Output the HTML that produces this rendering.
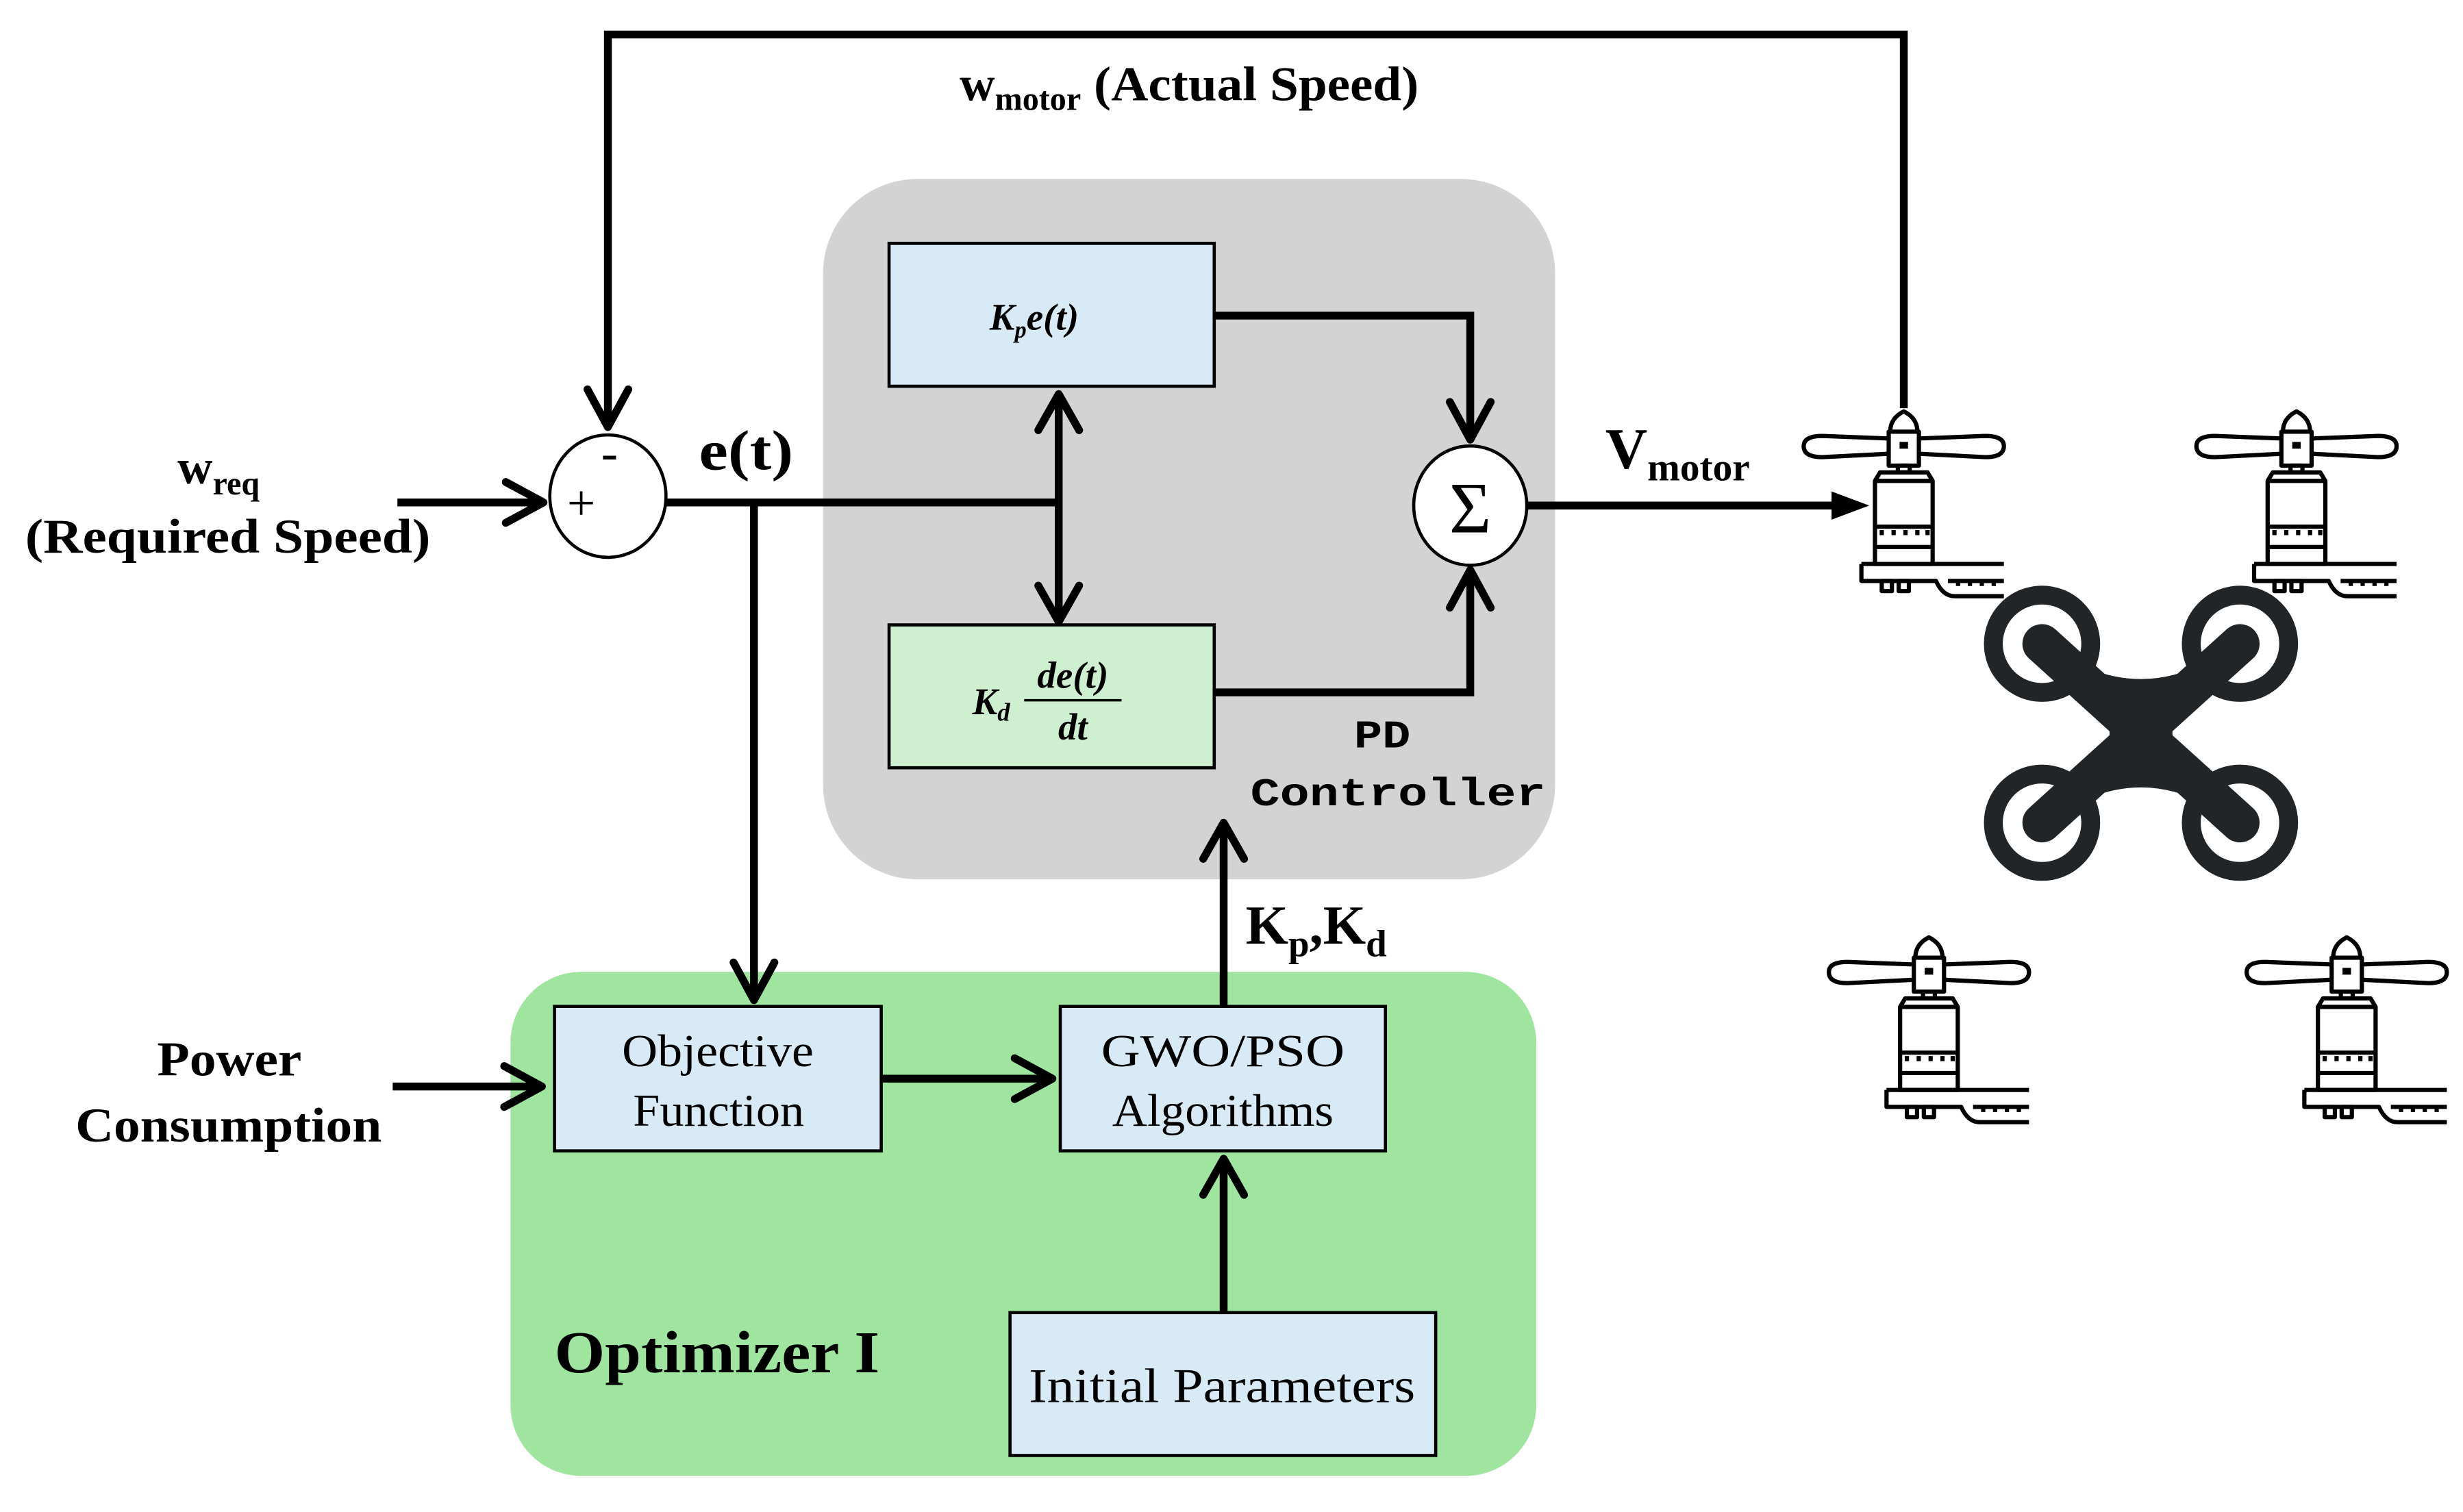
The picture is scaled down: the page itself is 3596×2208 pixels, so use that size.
<!DOCTYPE html>
<html><head><meta charset="utf-8"><style>
html,body{margin:0;padding:0;background:#fff;}
svg{display:block;}
.b{font-family:"Liberation Serif",serif;font-weight:bold;fill:#000;}
.s{font-family:"Liberation Serif",serif;fill:#000;}
.m{font-family:"Liberation Mono",monospace;font-weight:bold;fill:#000;}
</style></head><body>
<svg width="3596" height="2208" viewBox="0 0 1568 963" preserveAspectRatio="none" xmlns="http://www.w3.org/2000/svg">
<defs>
<g id="motor" fill="none" stroke="#000" stroke-width="2.5" stroke-linejoin="round" transform="scale(1.08)">
  <path d="M-8,12 Q-8,4 0,0 Q8,4 8,12 Z" fill="#fff"/>
  <rect x="-8.9" y="12" width="17.8" height="20" fill="#fff"/>
  <path d="M-8.9,16 L-48,14.5 Q-59,14.5 -59,20.5 Q-59,27 -48,27 L-8.9,25"/>
  <path d="M8.9,16 L48,14.5 Q59,14.5 59,20.5 Q59,27 48,27 L8.9,25"/>
  <rect x="-2.5" y="18" width="5" height="4" fill="#000" stroke="none"/>
  <rect x="-3.5" y="32" width="7" height="4"/>
  <path d="M-14,36 L14,36 L17,41 L17,90 L-17,90 L-17,41 Z" fill="#fff"/>
  <line x1="-17" y1="41" x2="17" y2="41"/>
  <line x1="-17" y1="68" x2="17" y2="68"/>
  <line x1="-17" y1="80" x2="17" y2="80"/>
  <path d="M-13,73 v-3 M-6,73 v-3 M1,73 v-3 M8,73 v-3 M14,73 v-3"/>
  <path d="M-25,90 L59,90 M-25,90 L-25,100 L19,100 Q23,109 30,109 L59,109"/>
  <path d="M26,100 L59,100 M32,100 v3 M39,100 v3 M46,100 v3 M53,100 v3"/>
  <rect x="-13" y="100" width="6" height="6"/>
  <rect x="-3" y="100" width="6" height="6"/>
</g>
</defs>

<rect x="524" y="114" width="466" height="446" rx="60" fill="#d3d3d3"/>
<rect x="325" y="619" width="653" height="321" rx="45" fill="#9fe5a0"/>

<g stroke="#000" stroke-width="5" fill="none" stroke-linecap="butt">
  <polyline points="1212,260 1212,22 387,22 387,272"/>
  <polyline points="374,248 387,272 400,248" stroke-linecap="round" stroke-linejoin="round"/>
  <line x1="253" y1="320" x2="346" y2="320"/>
  <polyline points="322,307 346,320 322,333" stroke-linejoin="round" stroke-linecap="round"/>
  <line x1="424" y1="320" x2="674" y2="320"/>
  <line x1="480" y1="320" x2="480" y2="637"/>
  <polyline points="467,613 480,637 493,613" stroke-linejoin="round" stroke-linecap="round"/>
  <line x1="674" y1="251" x2="674" y2="396"/>
  <polyline points="661,274 674,251 687,274" stroke-linejoin="round" stroke-linecap="round"/>
  <polyline points="661,373 674,396 687,373" stroke-linejoin="round" stroke-linecap="round"/>
  <polyline points="773,201 936,201 936,280"/>
  <polyline points="923,256 936,280 949,256" stroke-linejoin="round" stroke-linecap="round"/>
  <polyline points="773,441 936,441 936,363"/>
  <polyline points="923,387 936,363 949,387" stroke-linejoin="round" stroke-linecap="round"/>
  <line x1="972" y1="322" x2="1172" y2="322"/>
  <line x1="250" y1="692" x2="345" y2="692"/>
  <polyline points="321,679 345,692 321,705" stroke-linejoin="round" stroke-linecap="round"/>
  <line x1="561" y1="687" x2="670" y2="687"/>
  <polyline points="646,674 670,687 646,700" stroke-linejoin="round" stroke-linecap="round"/>
  <line x1="779" y1="641" x2="779" y2="524"/>
  <polyline points="766,547 779,524 792,547" stroke-linejoin="round" stroke-linecap="round"/>
  <line x1="779" y1="836" x2="779" y2="738"/>
  <polyline points="766,761 779,738 792,761" stroke-linejoin="round" stroke-linecap="round"/>
</g>
<polygon points="1166,313 1190,322 1166,331" fill="#000"/>

<ellipse cx="387" cy="316" rx="37" ry="39" fill="#fff" stroke="#000" stroke-width="2"/>
<text x="388" y="299" class="s" font-size="32" text-anchor="middle">-</text>
<text x="370" y="331" class="s" font-size="32" text-anchor="middle">+</text>
<ellipse cx="936" cy="322" rx="36" ry="38" fill="#fff" stroke="#000" stroke-width="2"/>
<text x="936" y="339" class="s" font-size="46" text-anchor="middle">Σ</text>

<rect x="566" y="155" width="207" height="91" fill="#d9eaf7" stroke="#000" stroke-width="2"/>
<text x="630" y="210" class="b" font-size="24" font-style="italic">K<tspan font-size="15" dy="5">p</tspan><tspan dy="-5">e(t)</tspan></text>
<rect x="566" y="398" width="207" height="91" fill="#cff0d0" stroke="#000" stroke-width="2"/>
<text x="619" y="455" class="b" font-size="24" font-style="italic">K<tspan font-size="16" dy="4">d</tspan></text>
<text x="683" y="438" class="b" font-size="24" font-style="italic" text-anchor="middle">de(t)</text>
<line x1="652" y1="446" x2="714" y2="446" stroke="#000" stroke-width="1.5"/>
<text x="683" y="471" class="b" font-size="24" font-style="italic" text-anchor="middle">dt</text>

<rect x="353" y="641" width="208" height="92" fill="#d9eaf7" stroke="#000" stroke-width="2"/>
<text x="396" y="679" class="s" font-size="29" textLength="122" lengthAdjust="spacingAndGlyphs">Objective</text>
<text x="403" y="717" class="s" font-size="29" textLength="109" lengthAdjust="spacingAndGlyphs">Function</text>
<rect x="675" y="641" width="207" height="92" fill="#d9eaf7" stroke="#000" stroke-width="2"/>
<text x="701" y="679" class="s" font-size="29" textLength="155" lengthAdjust="spacingAndGlyphs">GWO/PSO</text>
<text x="708" y="717" class="s" font-size="29" textLength="141" lengthAdjust="spacingAndGlyphs">Algorithms</text>
<rect x="643" y="836" width="271" height="91" fill="#d9eaf7" stroke="#000" stroke-width="2"/>
<text x="655" y="893" class="s" font-size="31" textLength="246" lengthAdjust="spacingAndGlyphs">Initial Parameters</text>

<text x="611" y="64" class="b" font-size="31">w<tspan font-size="21" dy="6">motor</tspan><tspan dy="-6" textLength="215" lengthAdjust="spacingAndGlyphs"> (Actual Speed)</tspan></text>
<text x="113" y="308" class="b" font-size="31">w<tspan font-size="21" dy="7">req</tspan></text>
<text x="16" y="352" class="b" font-size="31" textLength="258" lengthAdjust="spacingAndGlyphs">(Required Speed)</text>
<text x="445" y="299" class="b" font-size="36" textLength="60" lengthAdjust="spacingAndGlyphs">e(t)</text>
<text x="862" y="476" class="m" font-size="25" textLength="36" lengthAdjust="spacingAndGlyphs">PD</text>
<text x="796" y="513" class="m" font-size="25" textLength="188" lengthAdjust="spacingAndGlyphs">Controller</text>
<text x="1022" y="298" class="b" font-size="37">V<tspan font-size="25" dy="8">motor</tspan></text>
<text x="793" y="601" class="b" font-size="35">K<tspan font-size="24" dy="8">p</tspan><tspan dy="-8">,K</tspan><tspan font-size="24" dy="8">d</tspan></text>
<text x="100" y="685" class="b" font-size="31" textLength="92" lengthAdjust="spacingAndGlyphs">Power</text>
<text x="48" y="727" class="b" font-size="31" textLength="195" lengthAdjust="spacingAndGlyphs">Consumption</text>
<text x="353" y="874" class="b" font-size="38" textLength="207" lengthAdjust="spacingAndGlyphs">Optimizer I</text>

<use href="#motor" x="1212" y="262"/>
<use href="#motor" x="1462" y="262"/>
<use href="#motor" x="1228" y="597"/>
<use href="#motor" x="1494" y="597"/>

<g fill="#212528" stroke="#212528">
  <g fill="none" stroke-width="12">
    <circle cx="1300" cy="410" r="31"/>
    <circle cx="1426" cy="410" r="31"/>
    <circle cx="1300" cy="524" r="31"/>
    <circle cx="1426" cy="524" r="31"/>
  </g>
  <g stroke-width="25" stroke-linecap="round">
    <line x1="1300" y1="410" x2="1426" y2="524"/>
    <line x1="1426" y1="410" x2="1300" y2="524"/>
  </g>
  <path d="M1318,420 Q1363,445 1408,420 Q1383,450 1383,467 Q1383,484 1408,514 Q1363,489 1318,514 Q1343,484 1343,467 Q1343,450 1318,420 Z" stroke="none"/>
</g>
</svg>
</body></html>
